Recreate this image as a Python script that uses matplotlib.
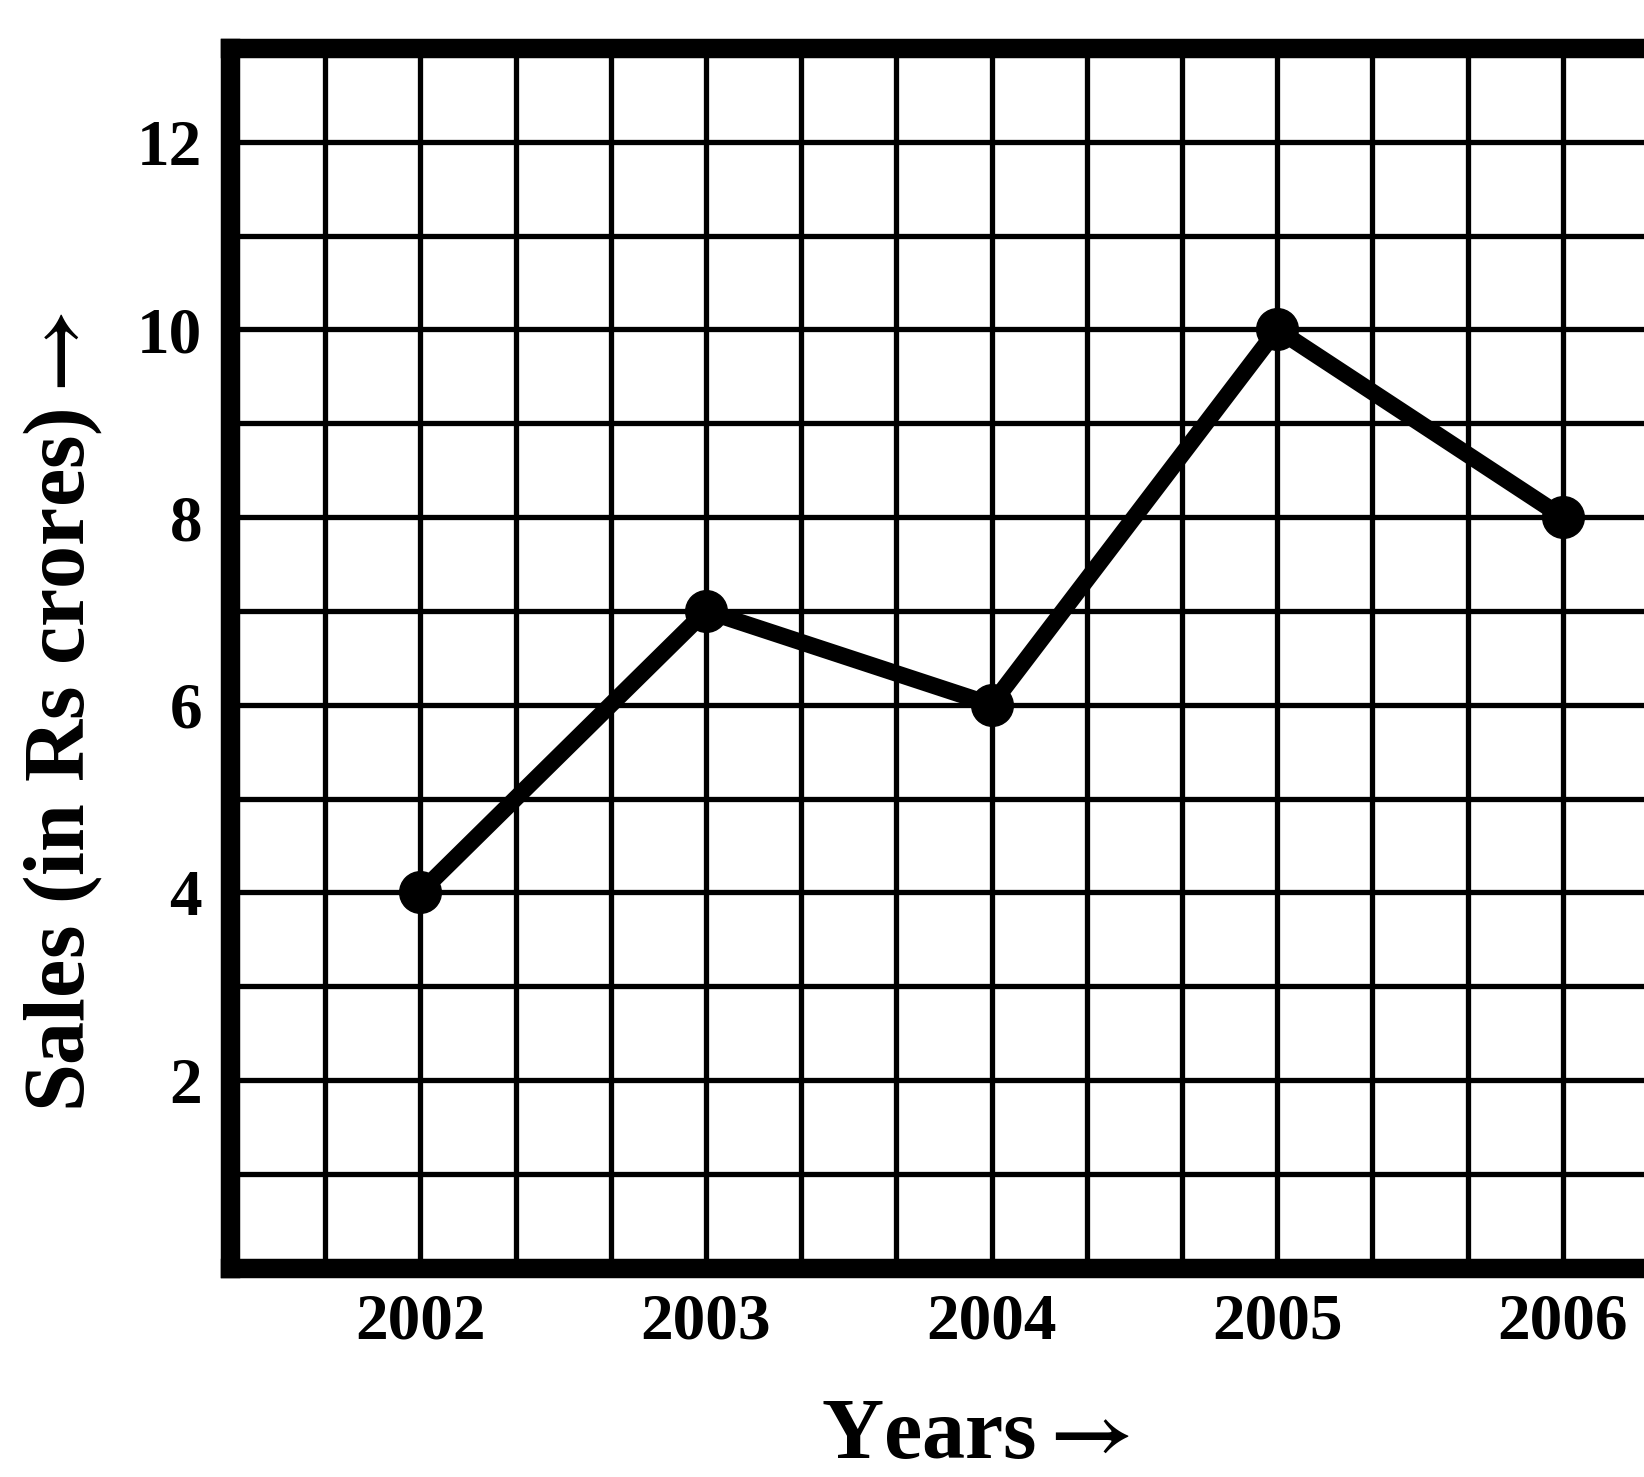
import matplotlib
matplotlib.use('Agg')
import matplotlib.pyplot as plt
import numpy as np

# data
years = [2002, 2003, 2004, 2005, 2006]
sales = [4, 7, 6, 10, 8]
ytick_labels = [2, 4, 6, 8, 10, 12]

plt.rcParams['font.family'] = ['Liberation Serif', 'DejaVu Serif']
plt.rcParams['font.weight'] = 'bold'
plt.rcParams['mathtext.fontset'] = 'stix'

fig = plt.figure(figsize=(16.44, 14.77), dpi=100)
ax = fig.add_axes([0.1399, 0.1418, 0.8686, 0.8257])

ax.plot(years, sales, color='black', lw=12, marker='o', ms=30,
        solid_joinstyle='round', solid_capstyle='round', zorder=5, clip_on=False)

ax.set_xlim(2001 + 1/3, 2006 + 1/3)
ax.set_ylim(0, 13)

ax.set_xticks(years)
ax.set_xticks(np.arange(2001 + 2/3, 2006.3, 1/3), minor=True)
ax.set_yticks(ytick_labels)
ax.set_yticks(range(1, 13), minor=True)

ax.grid(which='both', color='black', lw=3.8)
ax.set_axisbelow(True)
ax.tick_params(which='both', length=0)
ax.tick_params(axis='x', labelsize=47, pad=18)
ax.tick_params(axis='y', labelsize=47, pad=20)
for lab in ax.get_xticklabels() + ax.get_yticklabels():
    lab.set_fontweight('bold')

for s in ax.spines.values():
    s.set_linewidth(14)
    s.set_color('black')
ax.spines['right'].set_visible(False)

fig.text(975/1644, 1 - 1458/1477, r'Years$\rightarrow$', fontsize=62, fontweight='bold',
         ha='center', va='baseline')
fig.text(63/1644, 1 - 712/1477, r'Sales (in Rs crores)$\rightarrow$', fontsize=62,
         fontweight='bold', rotation=90, ha='center', va='center')

plt.savefig('out.png', dpi=100)
